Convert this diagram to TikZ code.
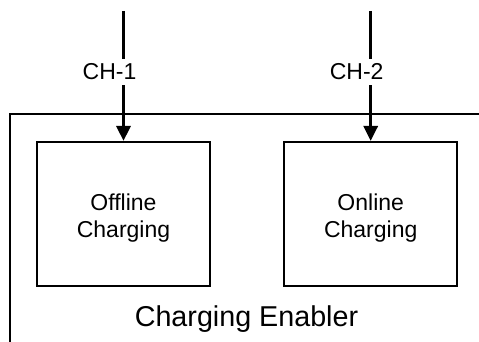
\documentclass[tikz,border=0pt]{standalone}
\usepackage{fontspec}
\setmainfont{Liberation Sans}
\usetikzlibrary{positioning,arrows.meta}

\begin{document}
\begin{tikzpicture}[
x=1pt,y=-1pt,
frame/.style={
  draw,
  line width=1.5pt,
  anchor=north west,
  minimum width=520pt,
  minimum height=260pt
},
chbox/.style={
  draw,
  line width=2.2pt,
  minimum width=173pt,
  minimum height=144pt
},
boxtext/.style={
  align=center,
  yshift=-4pt,
  font=\fontsize{23}{27}\selectfont
},
chlabel/.style={
  fill=white,
  inner sep=5pt,
  xshift=-14pt,
  font=\fontsize{23}{27}\selectfont
},
feed/.style={
  line width=3.2pt,
  -{Triangle[length=15pt,width=14pt]}
},
node distance=72pt
]
\clip (0,0) rectangle (479,341);
\node[frame] (enabler) at (9,113) {};
\node[chbox,label={[boxtext]center:Offline\\Charging}] (offline) at (123.5,214) {};
\node[chbox,right=of offline,label={[boxtext]center:Online\\Charging}] (online) {};
\node[anchor=base,font=\fontsize{28.7}{33}\selectfont] (name) at (246.5,326.5) {Charging Enabler};

\coordinate[above=130pt of offline.north] (in1);
\coordinate[above=130pt of online.north] (in2);

\draw[feed] (in1) -- node[chlabel,pos=0.47] {CH-1} (offline);
\draw[feed] (in2) -- node[chlabel,pos=0.47] {CH-2} (online);
\end{tikzpicture}
\end{document}
